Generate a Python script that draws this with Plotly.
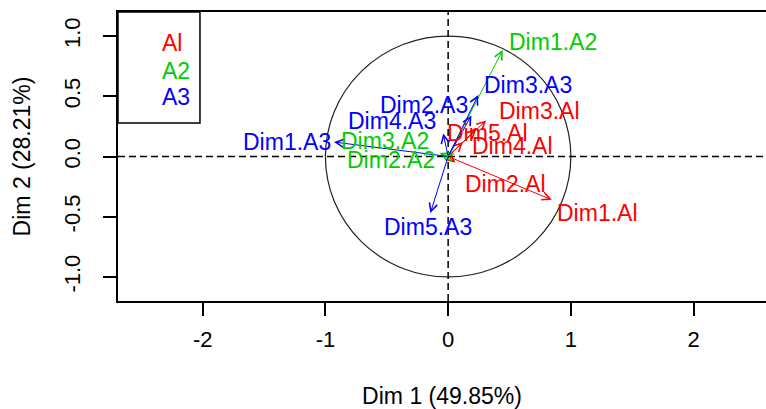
import plotly.graph_objects as go

# ---- data ----
axis_names = ["Dim1.Al", "Dim2.Al", "Dim3.Al", "Dim4.Al", "Dim5.Al",
              "Dim1.A2", "Dim2.A2", "Dim3.A2",
              "Dim1.A3", "Dim2.A3", "Dim3.A3", "Dim4.A3", "Dim5.A3"]
axis_group = ["Al", "Al", "Al", "Al", "Al",
              "A2", "A2", "A2",
              "A3", "A3", "A3", "A3", "A3"]
dim1_coord = [0.845, 0.06, 0.31, 0.12, 0.23,
              0.445, -0.04, -0.07,
              -0.93, 0.19, 0.245, -0.04, -0.145]
dim2_coord = [-0.36, -0.05, 0.30, 0.12, 0.23,
              0.885, 0.01, 0.03,
              0.12, 0.34, 0.51, 0.19, -0.47]
groups = ["Al", "A2", "A3"]
x_ticks = [-2, -1, 0, 1, 2]
y_ticks = [-1.0, -0.5, 0.0, 0.5, 1.0]
x_title = "Dim 1 (49.85%)"
y_title = "Dim 2 (28.21%)"

# ---- styles ----
group_colors = {"Al": "#FF0000", "A2": "#00CD00", "A3": "#0000FF"}
# label placement relative to arrow tip: (xanchor, xshift px, yshift px)
label_place = {
    "Dim1.Al": ("left", 3, -13), "Dim2.Al": ("left", 7, -21),
    "Dim3.Al": ("left", 11, 9), "Dim4.Al": ("left", 7, -4),
    "Dim5.Al": ("center", 11, -4),
    "Dim1.A2": ("left", 4, 8), "Dim2.A2": ("right", -6, -5),
    "Dim3.A2": ("right", -9, 12),
    "Dim1.A3": ("right", -1, 0), "Dim2.A3": ("right", -1, 11),
    "Dim3.A3": ("left", 4, 10), "Dim4.A3": ("right", -5, 13),
    "Dim5.A3": ("center", -2, -14),
}
FONT = "Liberation Sans, Arial, sans-serif"
LABEL_SIZE = 23
TICK_SIZE = 22

fig = go.Figure()
# invisible trace so axes exist
fig.add_trace(go.Scatter(x=dim1_coord, y=dim2_coord, mode="markers",
                         marker=dict(size=1, opacity=0), hoverinfo="skip",
                         showlegend=False))

annotations = []
for name, g, x, y in zip(axis_names, axis_group, dim1_coord, dim2_coord):
    col = group_colors[g]
    annotations.append(dict(x=x, y=y, ax=0, ay=0, xref="x", yref="y",
                            axref="x", ayref="y", text="", showarrow=True,
                            arrowhead=5, arrowsize=1.6, arrowwidth=1,
                            arrowcolor=col, standoff=0, startstandoff=0))
for name, g, x, y in zip(axis_names, axis_group, dim1_coord, dim2_coord):
    anc, xs, ys = label_place[name]
    annotations.append(dict(x=x, y=y, xref="x", yref="y", text=name,
                            showarrow=False, xanchor=anc, yanchor="middle",
                            xshift=xs, yshift=ys,
                            font=dict(family=FONT, size=LABEL_SIZE,
                                      color=group_colors[g])))
# legend text (upper-left box)
legend_y = [0.893, 0.797, 0.707]
for g, ly in zip(groups, legend_y):
    annotations.append(dict(x=0.065, y=ly, xref="paper", yref="paper", text=g,
                            showarrow=False, xanchor="left", yanchor="middle",
                            font=dict(family=FONT, size=LABEL_SIZE,
                                      color=group_colors[g])))

shapes = [
    dict(type="circle", xref="x", yref="y", x0=-1, y0=-1, x1=1, y1=1,
         line=dict(color="#222222", width=1.2)),
    dict(type="line", xref="paper", yref="y", x0=0, x1=1, y0=0, y1=0,
         line=dict(color="black", width=1.5, dash="7px,4px")),
    dict(type="line", xref="x", yref="paper", x0=0, x1=0, y0=0, y1=1,
         line=dict(color="black", width=1.5, dash="7px,4px")),
    dict(type="rect", xref="paper", yref="paper", x0=0, x1=0.1265,
         y0=0.616, y1=1, line=dict(color="black", width=1.5)),
]

fig.update_layout(
    width=766, height=409,
    margin=dict(l=118, r=0, t=12, b=108),
    paper_bgcolor="white", plot_bgcolor="white",
    font=dict(family=FONT, color="black", size=TICK_SIZE),
    annotations=annotations, shapes=shapes, showlegend=False,
)
fig.update_xaxes(range=[-2.69, 2.59], tickvals=x_ticks,
                 ticktext=[str(v) for v in x_ticks],
                 showgrid=False, zeroline=False, showline=True,
                 linecolor="black", linewidth=2, mirror=True,
                 ticks="outside", ticklen=13, tickwidth=1.5, tickcolor="black",
                 ticklabelstandoff=5,
                 title=dict(text=x_title, standoff=38,
                            font=dict(size=LABEL_SIZE)))
fig.update_yaxes(range=[-1.2, 1.2], tickvals=y_ticks,
                 ticktext=[f"{v:.1f}" for v in y_ticks], tickangle=-90,
                 showgrid=False, zeroline=False, showline=True,
                 linecolor="black", linewidth=2, mirror=False,
                 ticks="outside", ticklen=13, tickwidth=1.5, tickcolor="black",
                 ticklabelstandoff=14,
                 title=dict(text=y_title, standoff=23,
                            font=dict(size=LABEL_SIZE)))

fig.write_html("out.html")
